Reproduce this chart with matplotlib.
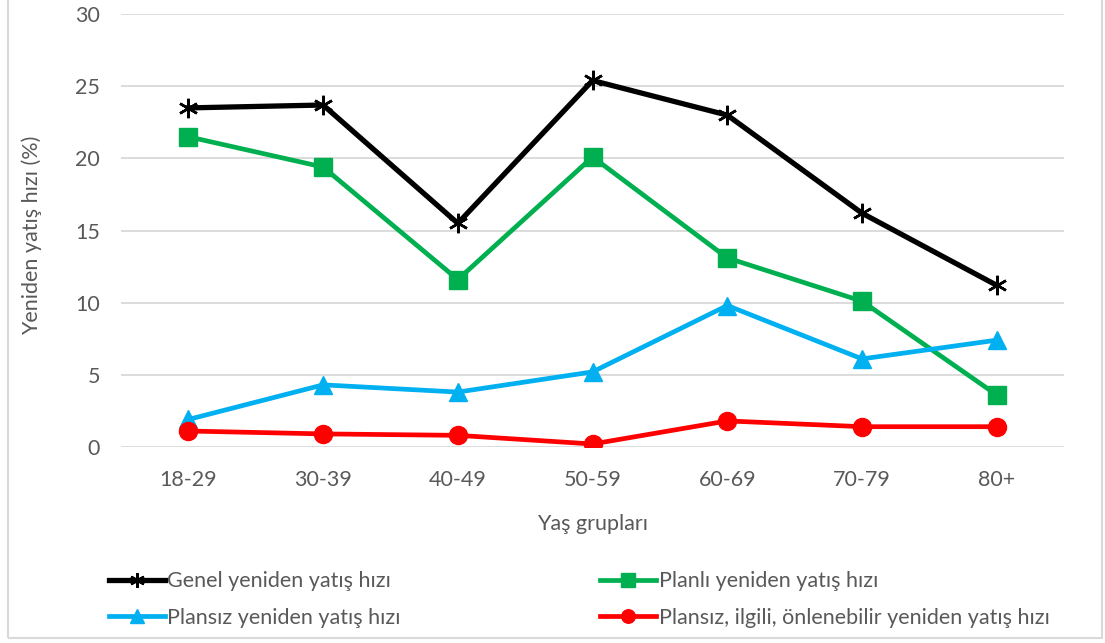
import matplotlib.pyplot as plt
from matplotlib.patches import Rectangle

plt.rcParams['font.family'] = ['Lato', 'DejaVu Sans']

age_groups = ["18-29", "30-39", "40-49", "50-59", "60-69", "70-79", "80+"]

genel = [23.5, 23.7, 15.5, 25.4, 23.0, 16.2, 11.2]
planli = [21.5, 19.4, 11.6, 20.1, 13.1, 10.1, 3.6]
plansiz = [1.9, 4.3, 3.8, 5.2, 9.8, 6.1, 7.4]
onlenebilir = [1.1, 0.9, 0.8, 0.2, 1.8, 1.4, 1.4]

labels = ["Genel yeniden yatış hızı", "Planlı yeniden yatış hızı",
          "Plansız yeniden yatış hızı",
          "Plansız, ilgili, önlenebilir yeniden yatış hızı"]

grey = "#595959"
fs = 15.5

fig = plt.figure(figsize=(11.05, 6.43), dpi=100)
ax = fig.add_axes([0.1095, 0.305, 0.8535, 0.673])

x = range(len(age_groups))
l1, = ax.plot(x, genel, color="black", lw=3.8, marker=(6, 2, 0), ms=14,
              mew=1.8, mec="black")
l2, = ax.plot(x, planli, color="#00B050", lw=3.4, marker="s", ms=13)
l3, = ax.plot(x, plansiz, color="#00B0F0", lw=3.4, marker="^", ms=13)
l4, = ax.plot(x, onlenebilir, color="#FF0000", lw=3.4, marker="o", ms=13)

ax.set_xlim(-0.5, 6.5)
ax.set_ylim(0, 30)
ax.set_yticks(range(0, 31, 5))
ax.set_xticks(list(x))
ax.set_xticklabels(age_groups)
ax.grid(axis="y", color="#d9d9d9", lw=1.3)
ax.set_axisbelow(True)
for s in ax.spines.values():
    s.set_visible(False)
ax.tick_params(length=0, labelsize=fs, colors=grey)
ax.tick_params(axis="y", pad=15)
ax.tick_params(axis="x", pad=17)

ax.set_ylabel("Yeniden yatış hızı (%)", fontsize=fs, color=grey)
ax.yaxis.set_label_coords(-0.084, 0.49)
ax.set_xlabel("Yaş grupları", fontsize=fs, color=grey)
ax.xaxis.set_label_coords(0.5, -0.155)

fig.legend([l1, l3, l2, l4], [labels[0], labels[2], labels[1], labels[3]],
           ncol=2, loc="upper left", bbox_to_anchor=(0.0905, 0.125),
           frameon=False, fontsize=fs, labelcolor=grey, handlelength=2.6,
           handletextpad=0.1, columnspacing=9.3, labelspacing=0.78,
           borderaxespad=0, markerscale=0.75)

# light frame around the chart area
fig.add_artist(Rectangle((0.0075, 0.008), 0.99, 1.1, transform=fig.transFigure,
                         fill=False, ec="#d9d9d9", lw=1.5))

fig.savefig("out.png", dpi=100)
